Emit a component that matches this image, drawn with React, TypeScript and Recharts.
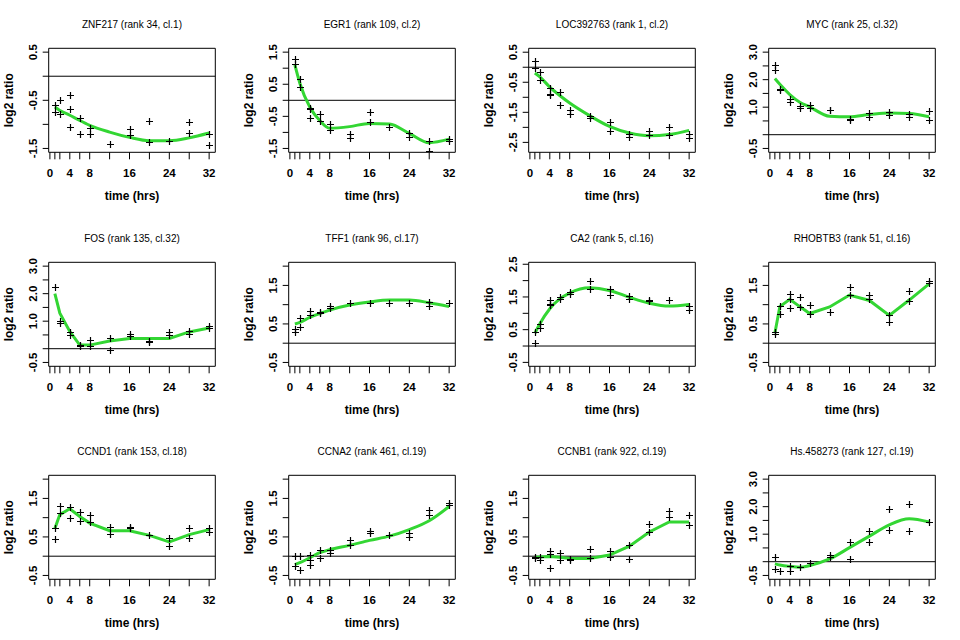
import React from "react";
import { ComposedChart, Line, Scatter, XAxis, YAxis, ReferenceLine, ReferenceArea } from "recharts";

const TIMES = [1, 2, 4, 6, 8, 12, 16, 20, 24, 28, 32];
const X_TICKS = [0, 1, 2, 4, 6, 8, 12, 16, 20, 24, 28, 32];
const X_LABELS = [0, 4, 8, 16, 24, 32];
const X_DOMAIN = [-0.24, 33.24];

// replicate measurements as [time, log2 ratio]; fitted curve at TIMES
const ZNF217_PTS = [[1, -0.59], [1, -0.75], [2, -0.49], [2, -0.78], [4, -0.4], [4, -0.69], [4, -1.05], [6, -0.86], [6, -1.21], [8, -1.08], [8, -1.2], [12, -1.41], [16, -1.09], [16, -1.22], [20, -0.92], [20, -1.36], [24, -1.34], [28, -0.95], [28, -1.17], [32, -1.21], [32, -1.43]];
const ZNF217_FIT = [-0.64, -0.71, -0.81, -0.92, -1.02, -1.16, -1.27, -1.34, -1.34, -1.28, -1.18];

const EGR1_PTS = [[1, 1.28], [1, 1.14], [2, 0.65], [2, 0.4], [4, -0.23], [4, -0.26], [4, -0.54], [6, -0.42], [6, -0.66], [8, -0.74], [8, -0.91], [12, -1.05], [12, -1.16], [16, -0.38], [16, -0.69], [20, -0.82], [24, -1.01], [24, -1.14], [28, -1.26], [28, -1.58], [32, -1.2], [32, -1.26]];
const EGR1_FIT = [1.1, 0.53, -0.21, -0.63, -0.87, -0.82, -0.72, -0.74, -1.03, -1.32, -1.21];

const LOC_PTS = [[1, 0.21], [1, -0.01], [2, -0.17], [2, -0.44], [4, -0.69], [4, -0.88], [4, -0.91], [6, -0.83], [6, -1.26], [8, -1.41], [8, -1.54], [12, -1.63], [12, -1.68], [16, -1.81], [16, -2.11], [20, -2.21], [20, -2.32], [24, -2.13], [24, -2.24], [28, -1.99], [28, -2.26], [32, -2.21], [32, -2.37]];
const LOC_FIT = [-0.19, -0.32, -0.66, -0.94, -1.19, -1.61, -1.97, -2.19, -2.28, -2.24, -2.1];

const MYC_PTS = [[1, 2.55], [1, 2.34], [2, 1.67], [2, 1.62], [4, 1.28], [4, 1.2], [6, 1.06], [6, 0.98], [8, 1.07], [8, 0.98], [12, 0.91], [12, 0.88], [16, 0.57], [16, 0.55], [20, 0.79], [20, 0.65], [24, 0.83], [24, 0.71], [28, 0.76], [28, 0.63], [32, 0.87], [32, 0.55]];
const MYC_FIT = [2.04, 1.83, 1.46, 1.18, 1.01, 0.67, 0.65, 0.73, 0.79, 0.77, 0.65];

const FOS_PTS = [[1, 2.26], [2, 0.99], [2, 0.92], [4, 0.61], [4, 0.49], [6, 0.12], [6, 0.1], [8, 0.3], [8, 0.11], [12, 0.4], [12, -0.04], [16, 0.54], [16, 0.47], [20, 0.28], [20, 0.23], [24, 0.59], [24, 0.51], [28, 0.63], [28, 0.54], [32, 0.81], [32, 0.75]];
const FOS_FIT = [2.0, 1.29, 0.63, 0.13, 0.13, 0.28, 0.37, 0.37, 0.37, 0.61, 0.75];

const TFF1_PTS = [[1, 0.37], [1, 0.29], [2, 0.65], [2, 0.41], [4, 0.84], [4, 0.74], [6, 0.82], [6, 0.78], [8, 0.97], [8, 0.91], [12, 1.04], [16, 1.04], [20, 1.05], [24, 1.05], [28, 1.06], [28, 0.97], [32, 1.05]];
const TFF1_FIT = [0.5, 0.54, 0.67, 0.77, 0.86, 0.99, 1.07, 1.12, 1.12, 1.05, 0.95];

const CA2_PTS = [[1, 0.42], [1, 0.09], [2, 0.68], [2, 0.55], [4, 1.41], [4, 1.27], [4, 1.24], [6, 1.49], [6, 1.44], [8, 1.65], [8, 1.6], [12, 1.99], [12, 1.73], [16, 1.73], [16, 1.55], [20, 1.54], [20, 1.44], [24, 1.41], [24, 1.39], [28, 1.42], [32, 1.21], [32, 1.11]];
const CA2_FIT = [0.39, 0.68, 1.14, 1.44, 1.62, 1.78, 1.7, 1.49, 1.31, 1.22, 1.27];

const RHOBTB3_PTS = [[1, 0.29], [1, 0.23], [2, 0.97], [2, 0.77], [4, 1.28], [4, 1.14], [4, 0.91], [6, 1.21], [6, 0.93], [8, 1.0], [8, 0.77], [12, 0.81], [16, 1.47], [16, 1.25], [20, 1.25], [20, 1.14], [24, 0.72], [24, 0.56], [28, 1.36], [28, 1.09], [32, 1.62], [32, 1.56]];
const RHOBTB3_FIT = [0.26, 0.95, 1.14, 0.95, 0.77, 0.94, 1.25, 1.11, 0.72, 1.12, 1.54];

const CCND1_PTS = [[1, 0.72], [1, 0.45], [2, 1.31], [2, 1.12], [4, 1.29], [4, 0.99], [6, 1.15], [6, 0.91], [8, 1.06], [8, 0.89], [12, 0.75], [12, 0.58], [16, 0.75], [16, 0.72], [20, 0.54], [24, 0.47], [24, 0.27], [28, 0.72], [28, 0.47], [32, 0.73], [32, 0.63]];
const CCND1_FIT = [0.72, 1.08, 1.23, 1.03, 0.86, 0.66, 0.66, 0.54, 0.37, 0.56, 0.69];

const CCNA2_PTS = [[1, 0.0], [1, -0.26], [2, 0.0], [2, -0.35], [4, 0.04], [4, -0.11], [4, -0.22], [6, 0.15], [6, -0.04], [8, 0.16], [8, 0.08], [12, 0.41], [12, 0.3], [16, 0.66], [16, 0.59], [20, 0.56], [24, 0.59], [24, 0.51], [28, 1.2], [28, 1.08], [32, 1.39], [32, 1.32]];
const CCNA2_FIT = [-0.22, -0.17, -0.04, 0.09, 0.17, 0.28, 0.41, 0.52, 0.69, 0.92, 1.29];

const CCNB1_PTS = [[1, -0.01], [1, -0.04], [2, -0.01], [2, -0.11], [4, 0.13], [4, 0.06], [4, -0.3], [6, 0.08], [6, -0.09], [8, -0.06], [8, -0.11], [12, 0.18], [12, -0.04], [16, 0.13], [16, -0.01], [20, 0.28], [20, -0.07], [24, 0.84], [24, 0.63], [28, 1.18], [28, 1.01], [32, 1.06], [32, 0.82]];
const CCNB1_FIT = [-0.03, -0.02, -0.01, -0.03, -0.06, -0.06, 0.03, 0.26, 0.63, 0.89, 0.89];

const HS_PTS = [[1, 0.17], [1, -0.27], [2, -0.35], [4, -0.14], [4, -0.35], [6, -0.18], [8, -0.06], [12, 0.24], [12, 0.16], [16, 0.73], [16, 0.1], [20, 1.13], [20, 0.73], [24, 1.93], [24, 1.16], [28, 2.11], [28, 1.12], [32, 1.46]];
const HS_FIT = [-0.08, -0.12, -0.17, -0.2, -0.14, 0.1, 0.51, 0.93, 1.34, 1.56, 1.44];

// y axes
const TICKS_ZNF = [-1.5, -1, -0.5, 0, 0.5];
const LABELS_ZNF = [-1.5, -0.5, 0.5];
const TICKS_EGR = [-1.5, -1, -0.5, 0, 0.5, 1, 1.5];
const LABELS_EGR = [-1.5, -0.5, 0.5, 1.5];
const TICKS_LOC = [-2.5, -2, -1.5, -1, -0.5, 0, 0.5];
const LABELS_LOC = [-2.5, -1.5, -0.5, 0.5];
const TICKS_HI = [-0.5, 0, 0.5, 1, 1.5, 2, 2.5, 3];
const LABELS_HI = [-0.5, 1, 2, 3];
const TICKS_MID = [-0.5, 0, 0.5, 1, 1.5, 2];
const LABELS_MID = [-0.5, 0.5, 1.5];
const TICKS_CA2 = [-0.5, 0, 0.5, 1, 1.5, 2, 2.5];
const LABELS_CA2 = [-0.5, 0.5, 1.5, 2.5];

const PANELS = [
  { title: "ZNF217 (rank 34, cl.1)", pts: ZNF217_PTS, fit: ZNF217_FIT, domain: [-1.58, 0.58], ticks: TICKS_ZNF, labels: LABELS_ZNF, curve: "monotone" },
  { title: "EGR1 (rank 109, cl.2)", pts: EGR1_PTS, fit: EGR1_FIT, domain: [-1.62, 1.62], ticks: TICKS_EGR, labels: LABELS_EGR, curve: "monotone" },
  { title: "LOC392763 (rank 1, cl.2)", pts: LOC_PTS, fit: LOC_FIT, domain: [-2.83, 0.63], ticks: TICKS_LOC, labels: LABELS_LOC, curve: "monotone" },
  { title: "MYC (rank 25, cl.32)", pts: MYC_PTS, fit: MYC_FIT, domain: [-0.64, 3.14], ticks: TICKS_HI, labels: LABELS_HI, curve: "monotone" },
  { title: "FOS (rank 135, cl.32)", pts: FOS_PTS, fit: FOS_FIT, domain: [-0.64, 3.14], ticks: TICKS_HI, labels: LABELS_HI, curve: "linear" },
  { title: "TFF1 (rank 96, cl.17)", pts: TFF1_PTS, fit: TFF1_FIT, domain: [-0.6, 2.1], ticks: TICKS_MID, labels: LABELS_MID, curve: "monotone" },
  { title: "CA2 (rank 5, cl.16)", pts: CA2_PTS, fit: CA2_FIT, domain: [-0.62, 2.56], ticks: TICKS_CA2, labels: LABELS_CA2, curve: "monotone" },
  { title: "RHOBTB3 (rank 51, cl.16)", pts: RHOBTB3_PTS, fit: RHOBTB3_FIT, domain: [-0.6, 2.1], ticks: TICKS_MID, labels: LABELS_MID, curve: "linear" },
  { title: "CCND1 (rank 153, cl.18)", pts: CCND1_PTS, fit: CCND1_FIT, domain: [-0.6, 2.1], ticks: TICKS_MID, labels: LABELS_MID, curve: "linear" },
  { title: "CCNA2 (rank 461, cl.19)", pts: CCNA2_PTS, fit: CCNA2_FIT, domain: [-0.6, 2.1], ticks: TICKS_MID, labels: LABELS_MID, curve: "monotone" },
  { title: "CCNB1 (rank 922, cl.19)", pts: CCNB1_PTS, fit: CCNB1_FIT, domain: [-0.6, 2.1], ticks: TICKS_MID, labels: LABELS_MID, curve: "linear" },
  { title: "Hs.458273 (rank 127, cl.19)", pts: HS_PTS, fit: HS_FIT, domain: [-0.64, 3.14], ticks: TICKS_HI, labels: LABELS_HI, curve: "monotone" },
];

const FONT = "'Liberation Sans', Arial, Helvetica, sans-serif";
const ROW_TOPS = [0, 214, 427];
const PLOT_TOP = 48.3;
const PLOT_LEFT = 48.7;
const PLOT_BOTTOM = 152.3;
const PLOT_W = 166.6;

const Plus = (props: any) => {
  const { cx, cy } = props;
  if (cx == null || cy == null) return <g />;
  const x = Math.round(cx) + 0.5;
  const y = Math.round(cy) + 0.5;
  return <path d={`M${x - 3.5},${y}H${x + 3.5}M${x},${y - 3.5}V${y + 3.5}`} stroke="#000" strokeWidth={1.2} fill="none" />;
};

const XTick = (props: any) => {
  const { x, payload } = props;
  if (!X_LABELS.includes(payload.value)) return <g />;
  return (
    <text x={x} y={176.7} textAnchor="middle" fontFamily={FONT} fontSize={11.5} fontWeight="bold" fill="#000">
      {payload.value}
    </text>
  );
};

function Panel({ cfg, left, top }: any) {
  const pts = cfg.pts.map(([t, y]: number[]) => ({ t, y }));
  const fit = TIMES.map((t, i) => ({ t, y: cfg.fit[i] }));
  const labels: number[] = cfg.labels;
  const YTick = (p: any) => {
    const v = p.payload.value;
    if (!labels.some((l) => Math.abs(l - v) < 1e-6)) return <g />;
    return (
      <text transform={`translate(37.3,${p.y}) rotate(-90)`} textAnchor="middle" fontFamily={FONT} fontSize={11.5} fontWeight="bold" fill="#000">
        {v.toFixed(1)}
      </text>
    );
  };
  return (
    <div style={{ position: "absolute", left, top, width: 240, height: 213 }}>
      <ComposedChart width={240} height={213} margin={{ top: PLOT_TOP, right: 240 - PLOT_LEFT - PLOT_W, bottom: 30.7, left: 0 }}>
        <XAxis
          type="number"
          dataKey="t"
          domain={X_DOMAIN}
          ticks={X_TICKS}
          interval={0}
          allowDataOverflow
          height={30}
          tickSize={7}
          axisLine={false}
          tickLine={{ stroke: "#000" }}
          tick={<XTick />}
          label={() => (
            <text x={PLOT_LEFT + PLOT_W / 2} y={200} textAnchor="middle" fontFamily={FONT} fontSize={12} fontWeight="bold" fill="#000">
              time (hrs)
            </text>
          )}
        />
        <YAxis
          type="number"
          dataKey="y"
          domain={cfg.domain}
          ticks={cfg.ticks}
          interval={0}
          allowDataOverflow
          width={PLOT_LEFT}
          tickSize={6}
          axisLine={false}
          tickLine={{ stroke: "#000" }}
          tick={YTick}
          label={() => (
            <text transform={`translate(12.5,${(PLOT_TOP + PLOT_BOTTOM) / 2}) rotate(-90)`} textAnchor="middle" fontFamily={FONT} fontSize={12} fontWeight="bold" fill="#000">
              log2 ratio
            </text>
          )}
        />
        <ReferenceLine y={0} stroke="#000" strokeWidth={1} />
        <Scatter data={pts} dataKey="y" shape={Plus} isAnimationActive={false} />
        <Line data={fit} dataKey="y" type={cfg.curve} stroke="#33d633" strokeWidth={3} dot={false} activeDot={false} isAnimationActive={false} />
        <ReferenceArea x1={X_DOMAIN[0]} x2={X_DOMAIN[1]} y1={cfg.domain[0]} y2={cfg.domain[1]} fill="none" fillOpacity={0} stroke="#000" strokeWidth={1} />
      </ComposedChart>
      <div
        style={{
          position: "absolute",
          left: PLOT_LEFT,
          width: PLOT_W,
          top: PLOT_TOP - 23 - 6,
          lineHeight: "12px",
          fontSize: 10,
          fontFamily: FONT,
          textAlign: "center",
          color: "#000",
          whiteSpace: "nowrap",
        }}
      >
        {cfg.title}
      </div>
    </div>
  );
}

export default function App() {
  return (
    <div style={{ position: "absolute", left: 0, top: 0, width: 960, height: 640, background: "#fff" }}>
      {PANELS.map((cfg, i) => (
        <Panel key={cfg.title} cfg={cfg} left={(i % 4) * 240} top={ROW_TOPS[Math.floor(i / 4)]} />
      ))}
    </div>
  );
}
